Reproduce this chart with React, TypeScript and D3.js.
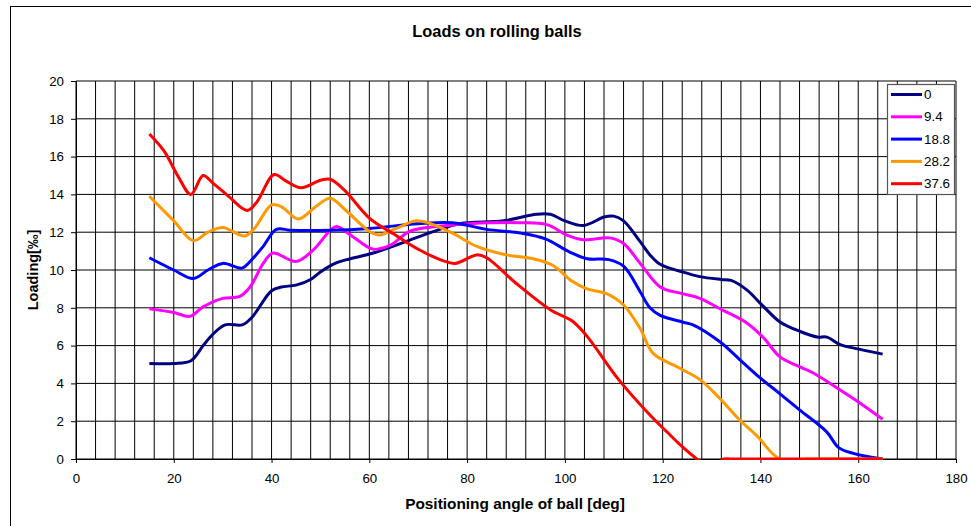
import React, { useEffect, useRef } from 'react';
import * as d3 from 'd3';

// ball positioning angles [deg] and loadings [‰]
const angles0 = [15, 20, 23.5, 26, 28, 30.5, 34, 36, 40, 42, 45, 48, 50, 53, 55.4, 60.8, 66.9, 73.8, 78.5, 87.4, 94.2, 97, 100, 103.8, 108, 110, 112, 115.4, 117.4, 119.5, 124, 127.6, 132, 134, 137.2, 140.5, 144, 148.1, 151.6, 153.6, 156.3, 160.4, 165];
const load0 = [5.05, 5.05, 5.2, 6.0, 6.6, 7.1, 7.1, 7.5, 8.9, 9.1, 9.2, 9.5, 9.9, 10.35, 10.55, 10.9, 11.45, 12.1, 12.45, 12.6, 12.95, 12.95, 12.6, 12.35, 12.8, 12.85, 12.6, 11.5, 10.8, 10.3, 9.9, 9.65, 9.5, 9.45, 8.95, 8.1, 7.25, 6.75, 6.45, 6.45, 6.05, 5.8, 5.55];

const angles94 = [15, 20, 23.3, 26, 30, 33.5, 35.6, 38.3, 40.3, 45, 48.5, 52, 53.3, 56.7, 60.8, 64.2, 68.3, 73.8, 80.6, 90.8, 96.3, 100.4, 103.8, 109.2, 112, 115.4, 119.5, 124, 127.6, 131.7, 137.2, 140.5, 144, 147.4, 150.8, 156.3, 160.4, 165];
const load94 = [7.95, 7.75, 7.55, 8.05, 8.5, 8.6, 9.1, 10.35, 10.9, 10.45, 11.05, 12.1, 12.3, 11.75, 11.1, 11.3, 12.05, 12.3, 12.45, 12.5, 12.4, 11.85, 11.6, 11.7, 11.4, 10.35, 9.1, 8.75, 8.5, 7.95, 7.2, 6.45, 5.4, 4.95, 4.55, 3.65, 2.95, 2.1];

const angles188 = [15, 20, 24, 27, 30, 34, 35.6, 38.3, 41, 44, 52, 60, 70, 77, 84, 91, 96, 101, 104.5, 109, 112, 115.4, 117.4, 119.5, 124, 126.2, 131.7, 135.8, 139.9, 144, 148, 153.5, 156, 159, 165];
const load188 = [10.65, 10.0, 9.55, 10.0, 10.35, 10.1, 10.45, 11.25, 12.15, 12.1, 12.1, 12.2, 12.45, 12.5, 12.15, 11.95, 11.65, 10.95, 10.6, 10.55, 10.2, 8.85, 8.0, 7.6, 7.25, 7.1, 6.2, 5.25, 4.3, 3.45, 2.6, 1.45, 0.6, 0.3, 0.0];

const angles282 = [15, 20, 24, 27, 30, 34.5, 36.5, 40, 42, 45.5, 49, 52, 55, 60, 62, 65.5, 69.5, 72, 77, 82, 88, 93.5, 97.5, 101.5, 104.5, 108.5, 112, 115.4, 118, 123.5, 127.6, 131.7, 135.8, 139.2, 144, 150, 155, 160, 165];
const load282 = [13.9, 12.6, 11.55, 12.0, 12.25, 11.8, 12.2, 13.45, 13.35, 12.7, 13.35, 13.8, 13.2, 12.05, 11.85, 12.2, 12.6, 12.5, 11.95, 11.25, 10.8, 10.6, 10.25, 9.4, 9.0, 8.75, 8.15, 6.9, 5.6, 4.8, 4.2, 3.2, 2.05, 1.25, 0, 0, 0, 0, 0];

const angles376 = [15, 18, 21, 23.5, 26, 28, 31, 35, 37, 40.5, 43, 46, 50, 52, 55, 60, 65, 70, 75, 77.5, 82, 84, 90, 97, 101.5, 104.5, 111, 117.5, 121, 124, 127, 129, 131, 132.5, 134, 140, 150, 160, 165];
const load376 = [17.2, 16.3, 14.9, 14.0, 15.0, 14.6, 13.95, 13.15, 13.6, 15.05, 14.7, 14.35, 14.75, 14.8, 14.2, 12.75, 11.9, 11.1, 10.5, 10.35, 10.8, 10.65, 9.3, 7.9, 7.3, 6.5, 4.2, 2.3, 1.4, 0.65, 0, -0.3, -0.3, 0, 0, 0, 0, 0, 0];

const seriesNames = ['0', '9.4', '18.8', '28.2', '37.6'];
const seriesAngles = [angles0, angles94, angles188, angles282, angles376];
const seriesLoads = [load0, load94, load188, load282, load376];
const seriesColors = ['#000080', '#FF00FF', '#0000FF', '#FF9900', '#FF0000'];

const xTicks = [0, 20, 40, 60, 80, 100, 120, 140, 160, 180];
const yTicks = [0, 2, 4, 6, 8, 10, 12, 14, 16, 18, 20];

const W = 971;
const H = 526;
const FONT = 'Arial, "Liberation Sans", sans-serif';

const App: React.FC = () => {
  const ref = useRef<SVGSVGElement>(null);

  useEffect(() => {
    drawChart();
  }, []);

  const drawChart = () => {
    const svg = d3.select(ref.current);
    svg.selectAll('*').remove();

    const left = 76, right = 956, top = 81, bottom = 459;
    const x = d3.scaleLinear().domain([0, 180]).range([left, right]);
    const y = d3.scaleLinear().domain([0, 20]).range([bottom, top]);

    // chart border
    svg.append('rect')
      .attr('x', 10.5).attr('y', 6.5)
      .attr('width', W).attr('height', H)
      .attr('fill', '#fff').attr('stroke', '#000').attr('stroke-width', 1);

    // title
    svg.append('text')
      .attr('x', 497).attr('y', 37)
      .attr('text-anchor', 'middle')
      .style('font-family', FONT).style('font-size', '16.4px').style('font-weight', 'bold')
      .text('Loads on rolling balls');

    // grid
    const grid = svg.append('g');
    d3.range(0, 181, 4).forEach(v => {
      grid.append('line')
        .attr('x1', x(v)).attr('x2', x(v)).attr('y1', top).attr('y2', bottom)
        .attr('stroke', '#000').attr('stroke-width', 1);
    });
    yTicks.forEach(v => {
      grid.append('line')
        .attr('x1', left).attr('x2', right).attr('y1', y(v)).attr('y2', y(v))
        .attr('stroke', '#000').attr('stroke-width', 1);
    });

    // axes
    const xAxis = d3.axisBottom(x).tickValues(xTicks).tickSize(4).tickSizeOuter(0).tickPadding(11);
    const yAxis = d3.axisLeft(y).tickValues(yTicks).tickSize(5).tickSizeOuter(0).tickPadding(7);

    const gx = svg.append('g').attr('transform', `translate(0,${bottom})`).call(xAxis);
    const gy = svg.append('g').attr('transform', `translate(${left},0)`).call(yAxis);
    [gx, gy].forEach(g => {
      g.selectAll('path').attr('stroke', '#000');
      g.selectAll('line').attr('stroke', '#000');
      g.selectAll('text')
        .style('font-family', FONT).style('font-size', '13.3px').attr('fill', '#000');
    });

    // plot clip
    svg.append('clipPath').attr('id', 'plot-clip')
      .append('rect')
      .attr('x', left).attr('y', top - 2)
      .attr('width', right - left).attr('height', bottom - top + 3);

    const line = d3.line<[number, number]>()
      .x(d => x(d[0]))
      .y(d => y(d[1]))
      .curve(d3.curveCatmullRom.alpha(0.5));

    const lines = svg.append('g').attr('clip-path', 'url(#plot-clip)');
    seriesNames.forEach((name, i) => {
      const pts: [number, number][] = seriesAngles[i].map((a, j) => [a, seriesLoads[i][j]]);
      lines.append('path')
        .datum(pts)
        .attr('d', line)
        .attr('fill', 'none')
        .attr('stroke', seriesColors[i])
        .attr('stroke-width', 3)
        .attr('stroke-linejoin', 'round');
    });

    // axis titles
    svg.append('text')
      .attr('x', 515).attr('y', 509)
      .attr('text-anchor', 'middle')
      .style('font-family', FONT).style('font-size', '15.4px').style('font-weight', 'bold')
      .text('Positioning angle of ball [deg]');

    svg.append('text')
      .attr('transform', `translate(38,${(top + bottom) / 2}) rotate(-90)`)
      .attr('text-anchor', 'middle')
      .style('font-family', FONT).style('font-size', '14.5px').style('font-weight', 'bold')
      .text('Loading[‰]');

    // legend
    const legend = svg.append('g');
    legend.append('rect')
      .attr('x', 887.5).attr('y', 84.5).attr('width', 67).attr('height', 110)
      .attr('fill', '#fff').attr('stroke', '#555').attr('stroke-width', 1.2);
    seriesNames.forEach((name, i) => {
      const ly = 94.5 + i * 22.3;
      legend.append('line')
        .attr('x1', 891).attr('x2', 922).attr('y1', ly).attr('y2', ly)
        .attr('stroke', seriesColors[i]).attr('stroke-width', 3);
      legend.append('text')
        .attr('x', 924).attr('y', ly)
        .attr('dy', '0.35em')
        .style('font-family', FONT).style('font-size', '13.4px')
        .text(name);
    });
  };

  return (
    <svg ref={ref} width={W} height={H} style={{ position: 'absolute', left: 0, top: 0 }}></svg>
  );
};

export default App;
